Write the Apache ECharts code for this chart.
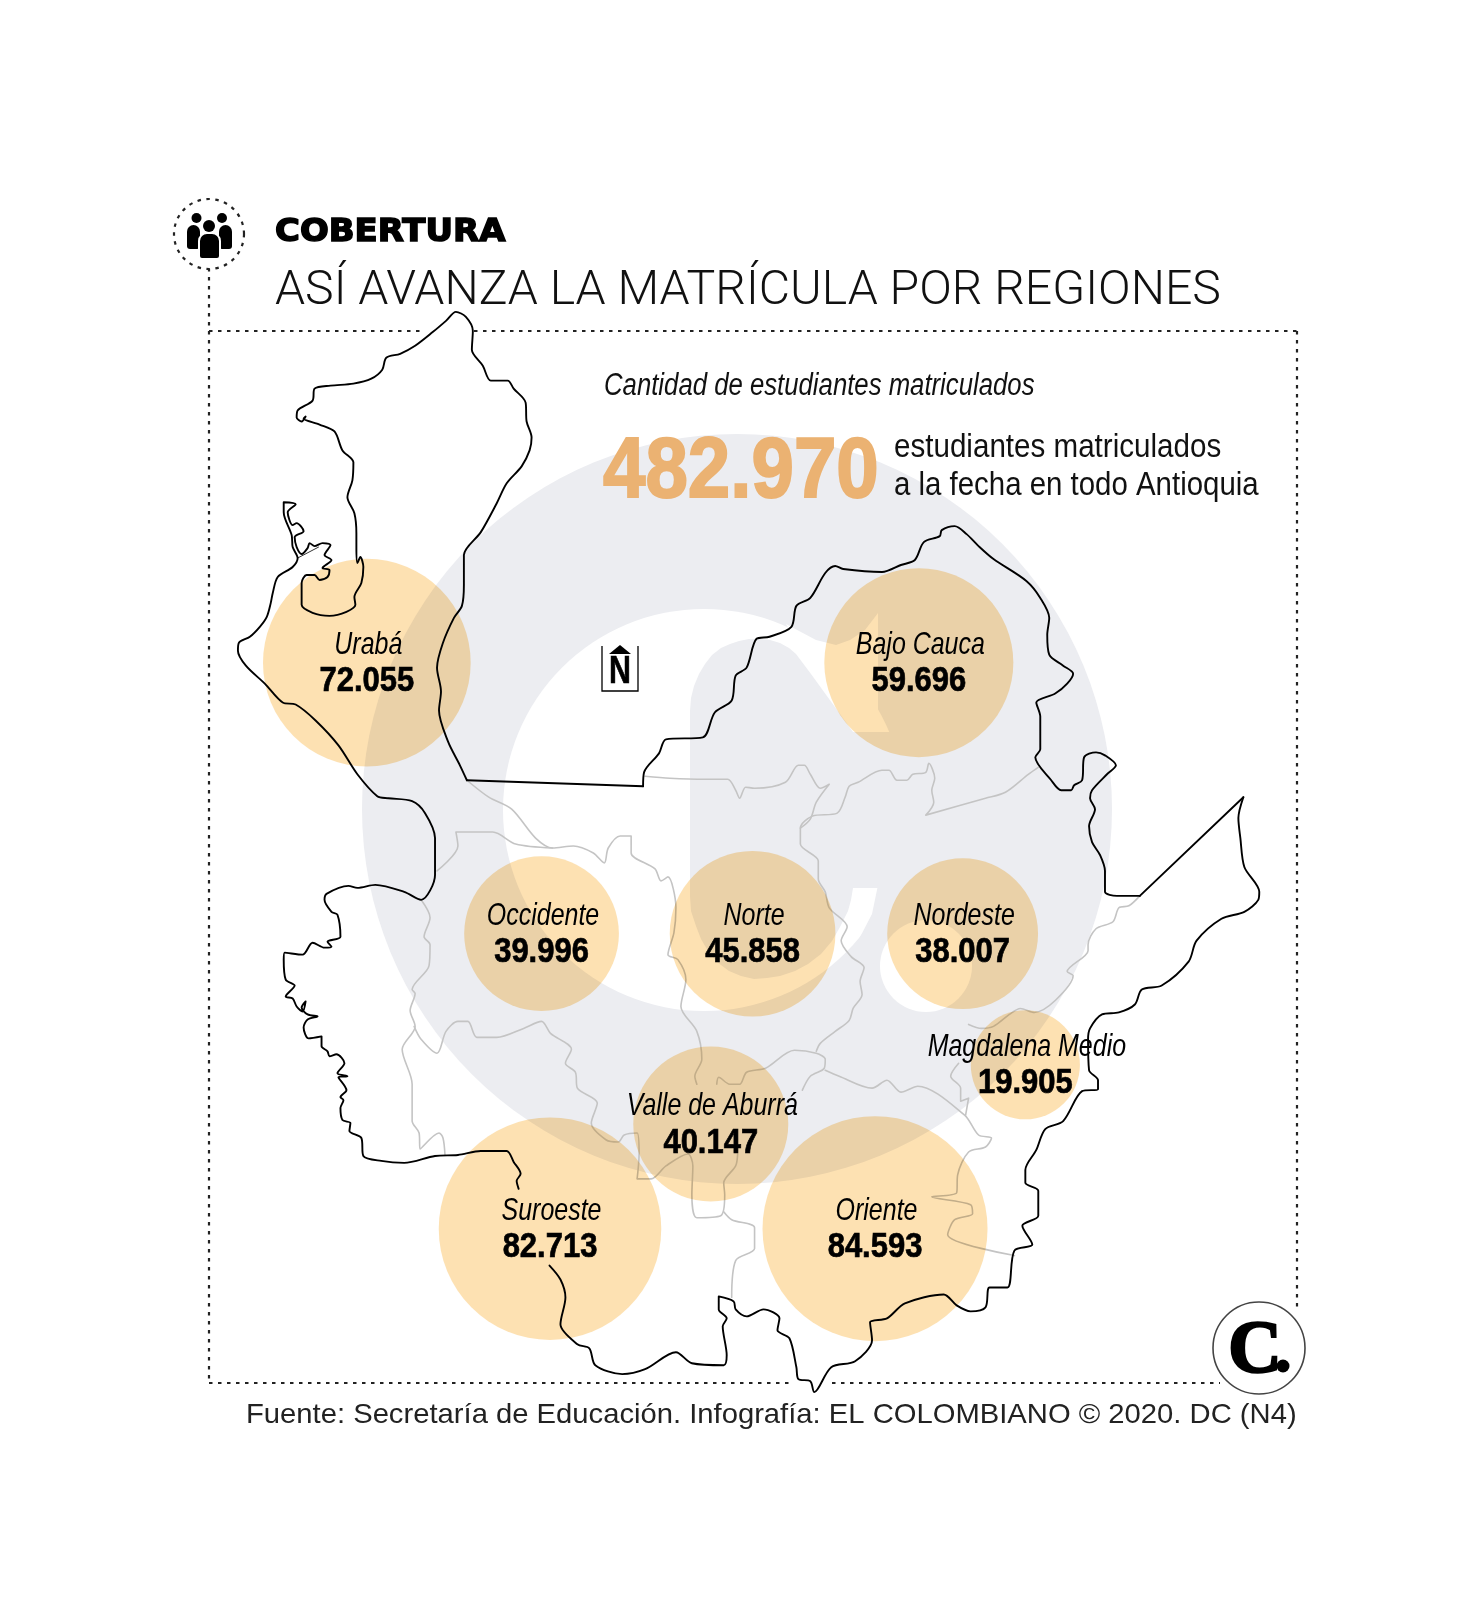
<!DOCTYPE html>
<html>
<head>
<meta charset="utf-8">
<title>Cobertura</title>
<script src="https://cdn.jsdelivr.net/npm/echarts@6/dist/echarts.min.js"></script>
<style>
html,body{margin:0;padding:0;background:#fff;}
#chart{width:1475px;height:1621px;}
</style>
</head>
<body>
<div id="chart"></div>
<script>
// regiones
var regionNames = ['Urabá','Bajo Cauca','Occidente','Norte','Nordeste','Magdalena Medio','Valle de Aburrá','Suroeste','Oriente'];
var regionValues = [72055,59696,39996,45858,38007,19905,40147,82713,84593];
var regionX = [368.5,923,544,756,967,1030,714,552.5,879];
var regionY = [665,665,937,937,937,1068.5,1128,1233,1233];
var totalStudents = 482970;

// contorno negro del mapa (coordenadas del mapa)
var outlineNorth = [[469,783],[462,768],[450,744],[441,713],[443,694],[439,670],[445,645],[456,620],[464,608],[466,587],[466,557],[483,534],[499,505],[509,485],[524,468],[532,452],[534,439],[529,423],[528,404],[516,390],[510,382],[493,382],[485,367],[474,351],[475,332],[468,318],[458,313],[448,322],[435,333],[417,347],[402,355],[388,359],[384,371],[373,380],[355,385],[332,387],[316,390],[314,402],[299,412],[298,419],[303,423],[307,418],[305,420],[321,426],[336,433],[344,452],[355,464],[354,482],[349,499],[356,515],[358,535],[358,549],[359,565],[362,559],[365,569],[363,585],[356,599],[357,607],[348,614],[331,618],[314,615],[303,607],[303,585],[308,577],[316,577],[321,582],[329,579],[331,572],[324,570],[333,562],[326,557],[332,547],[324,545],[316,548],[311,545],[309,550],[303,556],[298,549],[296,539],[305,533],[298,525],[294,527],[289,514],[297,506],[285,504],[285,514],[293,537],[294,549],[299,560],[294,569],[279,579],[274,595],[272,605],[268,619],[261,629],[251,639],[240,645],[239,653],[247,668],[266,686],[284,705],[297,707],[317,723],[340,748],[359,777],[379,799],[390,801],[414,804],[427,816],[437,841],[437,878],[423,903],[406,895],[377,888],[359,891],[350,889],[328,897],[326,903],[333,915],[339,918],[342,940],[329,945],[333,950],[326,951],[314,946],[304,958],[286,956],[285,963],[287,983],[296,989],[287,1000],[294,1002],[298,1010],[304,1015],[307,1005],[303,1011],[309,1018],[319,1020],[309,1023],[305,1031],[310,1042],[323,1040],[323,1050],[329,1055],[331,1060],[338,1058],[346,1067],[339,1077],[349,1080],[340,1081],[348,1094],[342,1101],[345,1104],[342,1112],[344,1124],[352,1127],[351,1135],[363,1142],[365,1160],[383,1165],[406,1167],[437,1160],[460,1159],[483,1155],[509,1155],[516,1166],[523,1178],[519,1185],[521,1193]];
var outlineSouth = [[552,1270],[563,1284],[568,1302],[563,1329],[580,1349],[592,1353],[598,1370],[625,1379],[648,1374],[679,1357],[695,1368],[727,1370],[730,1360],[726,1331],[730,1323],[722,1314],[722,1301],[737,1306],[739,1314],[750,1321],[767,1314],[783,1323],[781,1335],[793,1343],[800,1372],[802,1384],[814,1386],[818,1397],[835,1372],[859,1366],[876,1345],[874,1327],[891,1323],[909,1308],[948,1299],[961,1310],[975,1316],[990,1312],[994,1292],[1012,1292],[1019,1255],[1037,1249],[1027,1230],[1043,1220],[1043,1195],[1030,1187],[1030,1174],[1041,1154],[1050,1133],[1068,1125],[1087,1095],[1103,1093],[1103,1084],[1094,1074],[1093,1043],[1095,1032],[1107,1018],[1124,1016],[1140,1008],[1147,993],[1167,989],[1194,965],[1202,944],[1227,922],[1250,915],[1264,903],[1265,895],[1250,870],[1246,841],[1244,821],[1249,800]];
var outlineEast = [[1145,899],[1132,899],[1122,899],[1110,895],[1110,874],[1105,858],[1097,845],[1094,829],[1100,812],[1095,801],[1097,793],[1112,777],[1121,768],[1110,758],[1101,755],[1089,760],[1087,783],[1079,788],[1076,793],[1066,793],[1056,783],[1040,760],[1045,752],[1045,719],[1041,705],[1060,696],[1072,686],[1078,676],[1068,668],[1054,657],[1052,637],[1054,620],[1045,600],[1031,583],[998,561],[983,548],[971,536],[959,528],[946,532],[944,538],[928,544],[919,562],[905,567],[886,574],[847,571],[839,568],[829,575],[814,600],[800,608],[795,629],[773,639],[760,641],[750,670],[739,678],[735,703],[718,715],[706,740],[669,742],[662,756],[647,775],[646,789]];
var edgeStraightNorth = [[646,789],[469,783]];
var edgeStraightEast = [[1249,800],[1145,899]];
var outlineDelta = [[299,560],[320,549]];

// limites grises entre regiones
var borderOccidenteTop = [[469,783],[491,800],[514,812],[538,841],[555,851],[576,849],[596,856],[607,866],[611,851],[623,839],[634,839],[634,856],[658,872],[664,884],[671,880],[679,911],[677,936],[671,958],[681,963],[689,983],[684,1010],[700,1035],[705,1063],[698,1080],[700,1088]];
var borderOccidenteInner = [[555,851],[518,847],[495,835],[458,835],[460,849],[439,874]];
var borderWest = [[423,903],[432,921],[426,940],[432,948],[431,969],[414,993],[417,997],[412,1014],[417,1030],[404,1053],[414,1088],[414,1125],[421,1137],[422,1153],[441,1137],[445,1142],[447,1159]];
var borderSuroeste = [[416,1030],[423,1043],[439,1057],[448,1035],[460,1025],[470,1025],[479,1041],[499,1041],[526,1032],[544,1025],[553,1037],[574,1053],[568,1067],[578,1076],[580,1092],[600,1107],[594,1127],[609,1144],[621,1146],[627,1139],[640,1137],[642,1158],[640,1183],[654,1183],[669,1170],[691,1158],[696,1170],[695,1199],[700,1222],[724,1220],[728,1199],[727,1187],[739,1170],[741,1158]];
var borderSouth = [[727,1216],[735,1224],[758,1232],[758,1253],[739,1265],[735,1302]];
var borderValle = [[720,1088],[722,1081],[733,1088],[743,1088],[750,1076],[769,1072],[798,1054],[820,1057],[829,1063],[828,1072],[814,1080],[806,1094]];
var borderNorteEast = [[820,1055],[824,1047],[839,1035],[853,1024],[857,1012],[866,998],[864,985],[868,971],[855,960],[845,944],[851,930],[833,911],[829,895],[822,882],[822,864],[804,847],[804,831],[816,819],[841,816],[849,800],[853,789],[862,785],[886,773],[893,773],[901,783],[911,783],[917,777],[930,775],[933,766],[939,781],[936,793],[938,805],[930,818],[990,801],[1010,795],[1033,777],[1043,770]];
var borderNorteTop = [[648,779],[673,781],[708,782],[731,782],[739,793],[743,801],[749,790],[758,791],[789,785],[802,768],[808,768],[814,777],[824,791],[833,787],[820,805],[814,822],[804,831]];
var borderNordeste = [[1145,899],[1134,909],[1124,911],[1118,925],[1101,932],[1093,948],[1093,954],[1072,975],[1078,979],[1060,1004],[1039,1016],[1025,1012],[1014,1018],[998,1030],[986,1032],[973,1028]];
var borderMagdalena = [[963,1067],[955,1080],[965,1092],[965,1105],[973,1102],[970,1119]];
var borderOriente = [[829,1074],[843,1080],[876,1092],[891,1084],[905,1096],[922,1090],[969,1119],[983,1139],[996,1142],[990,1151],[973,1156],[962,1179],[961,1197],[936,1201],[975,1209],[977,1218],[959,1224],[952,1239],[1019,1260]];

var greyBorders = [borderOccidenteTop,borderOccidenteInner,borderWest,borderSuroeste,borderSouth,borderValle,borderNorteEast,borderNorteTop,borderNordeste,borderMagdalena,borderOriente];
var blackOutlines = [outlineNorth,outlineSouth,outlineEast];
var straightEdges = [edgeStraightNorth,edgeStraightEast];

var bubbleScale = 0.7736; // area proporcional al valor
var SANS = '"Liberation Sans"';
var WATERMARK = '#ecedf1';

function fmt(v) {
	return String(v).replace(/\B(?=(\d{3})+$)/g, '.');
}

function lineSeries(points, color, width, z, smooth) {
	return {
		type: 'line',
		data: points,
		symbol: 'none',
		smooth: smooth,
		silent: true,
		clip: false,
		z: z,
		lineStyle: {color: color, width: width, cap: 'round', join: 'round'}
	};
}

var bubbleData = regionNames.map(function(n, i) {
	return {name: n, value: [regionX[i], regionY[i], regionValues[i]]};
});

var series = [];
greyBorders.forEach(function(b) { series.push(lineSeries(b, '#c4c4c4', 1.6, 2, 0.3)); });
blackOutlines.forEach(function(b) { series.push(lineSeries(b, '#000', 1.9, 3, 0.3)); });
straightEdges.forEach(function(b) { series.push(lineSeries(b, '#000', 1.9, 3, false)); });
series.push(lineSeries(outlineDelta, '#000', 0.8, 3, false));

series.push({
	type: 'scatter',
	z: 4,
	blendMode: 'multiply',
	silent: true,
	symbolSize: function(val) { return Math.sqrt(val[2]) * bubbleScale; },
	itemStyle: {color: 'rgb(253,225,178)', opacity: 1},
	data: bubbleData
});

// etiquetas: tipografia condensada con scaleX
series.push({
	type: 'custom',
	z: 5,
	silent: true,
	clip: false,
	coordinateSystem: 'cartesian2d',
	data: bubbleData,
	renderItem: function(params, api) {
		var c = api.coord([api.value(0), api.value(1)]);
		return {
			type: 'group',
			children: [
				{type: 'text', x: c[0] + 1.5, y: c[1] - 18, scaleX: 0.78, style: {text: regionNames[params.dataIndex], font: 'italic 32px ' + SANS, fill: '#000', textAlign: 'center', textVerticalAlign: 'middle'}},
				{type: 'text', x: c[0], y: c[1] + 19, scaleX: 0.885, style: {text: fmt(api.value(2)), font: 'bold 35px ' + SANS, fill: '#000', stroke: '#000', lineWidth: 0.7, textAlign: 'center', textVerticalAlign: 'middle'}}
			]
		};
	}
});

function dotted(points) {
	return {type: 'polyline', z: 5, shape: {points: points}, style: {stroke: '#222', lineWidth: 2.2, lineDash: [3.5, 5.5], fill: null}};
}
function txt(x, y, text, font, fill, extra) {
	var el = {type: 'text', z: 6, x: x, y: y, style: {text: text, font: font, fill: fill, textVerticalAlign: 'middle'}};
	for (var k in extra) { if (k === 'style') { for (var s in extra.style) el.style[s] = extra.style[s]; } else el[k] = extra[k]; }
	return el;
}
function person(cx, headY, r, x, y, w, h, stroke) {
	return [
		{type: 'circle', z: 7, shape: {cx: cx, cy: headY, r: r}, style: {fill: '#000'}},
		{type: 'rect', z: 7, shape: {x: x, y: y, width: w, height: h, r: [8, 8, 3, 3]}, style: {fill: '#000', stroke: stroke, lineWidth: 2}}
	];
}

var graphicEls = [
	// marca de agua
	{type: 'circle', z: -1, z2: 1, shape: {cx: 737, cy: 809, r: 375}, style: {fill: WATERMARK}},
	{type: 'circle', z: -1, z2: 2, shape: {cx: 704, cy: 810, r: 201}, style: {fill: '#fff'}},
	{type: 'polygon', z: -1, z2: 3, shape: {points: [[786,624],[801,632],[816,640],[836,645],[850,640],[865,630],[878,613],[878,732],[848,732]]}, style: {fill: '#fff'}},
	{type: 'polygon', z: -1, z2: 4, shape: {points: [[690,896],[690,711],[691,698],[694,686],[699,674],[705,664],[712,655],[721,648],[730,644],[739,641],[749,639],[760,639],[770,640],[780,643],[789,648],[796,654],[811,674],[853,732],[920,732],[920,888],[853,888],[851,900],[848,911],[840,927],[832,941],[821,954],[808,964],[795,971],[780,976],[767,978],[754,979],[741,976],[729,971],[717,962],[708,951],[701,939],[696,926],[691,911]]}, style: {fill: WATERMARK}},
	{type: 'polygon', z: -1, z2: 5, shape: {points: [[878,885],[915,885],[915,960],[835,967],[858,941],[872,914]]}, style: {fill: WATERMARK}},
	{type: 'circle', z: -1, z2: 6, shape: {cx: 926, cy: 966, r: 46}, style: {fill: '#fff'}},

	// marco punteado
	dotted([[209,268],[209,1383]]),
	dotted([[209,331],[424,331]]),
	dotted([[474,331],[1297,331]]),
	dotted([[1297,331],[1297,1310]]),
	dotted([[209,1383],[792,1383]]),
	dotted([[832,1383],[1220,1383]]),

	// icono personas
	{type: 'circle', z: 5, shape: {cx: 209, cy: 234, r: 35}, style: {fill: '#fff', stroke: '#222', lineWidth: 2.2, lineDash: [3.5, 5.5]}},

	// encabezado
	txt(275, 233, 'COBERTURA', 'bold 32px "DejaVu Sans"', '#000', {scaleX: 1.06, style: {stroke: '#000', lineWidth: 1.5}}),

	// textos
	txt(604, 386, 'Cantidad de estudiantes matriculados', 'italic 31px ' + SANS, '#111', {scaleX: 0.83}),
	txt(603, 473, fmt(totalStudents), 'bold 86px ' + SANS, '#ebb272', {scaleX: 0.887, style: {stroke: '#ebb272', lineWidth: 2}}),
	txt(894, 448, 'estudiantes matriculados', '34px ' + SANS, '#111', {scaleX: 0.87}),
	txt(894, 486, 'a la fecha en todo Antioquia', '34px ' + SANS, '#111', {scaleX: 0.865}),
	txt(246, 1415, 'Fuente: Secretaría de Educación. Infografía: EL COLOMBIANO © 2020. DC (N4)', '28px ' + SANS, '#222', {scaleX: 1.043}),

	// norte
	{type: 'polyline', z: 6, shape: {points: [[602,646],[602,691],[638,691],[638,646]]}, style: {stroke: '#000', lineWidth: 1.3, fill: null}},
	{type: 'polygon', z: 6, shape: {points: [[609,654],[620,645],[631,654]]}, style: {fill: '#000'}},
	txt(620, 673, 'N', 'bold 38px ' + SANS, '#000', {scaleX: 0.8, style: {textAlign: 'center', stroke: '#000', lineWidth: 0.6}}),

	// logo
	{type: 'circle', z: 8, shape: {cx: 1259, cy: 1348, r: 46}, style: {fill: '#fff', stroke: '#444', lineWidth: 1.6}},
	txt(1255, 1353, 'C', 'bold 74px "Liberation Serif"', '#000', {z: 9, style: {textAlign: 'center', stroke: '#000', lineWidth: 2.5}}),
	{type: 'circle', z: 9, shape: {cx: 1283, cy: 1366, r: 6.5}, style: {fill: '#000'}}
];
graphicEls = graphicEls.concat(person(196.5, 218, 5, 187, 225, 13, 24, null));
graphicEls = graphicEls.concat(person(222, 218, 5, 219, 225, 13, 24, null));
graphicEls = graphicEls.concat(person(209, 226, 6, 199, 233, 21, 26, '#fff'));

var myChart = echarts.init(document.getElementById('chart'), null, {renderer: 'canvas'});
myChart.setOption({
	backgroundColor: '#fff',
	animation: false,
	title: {
		text: 'ASÍ AVANZA LA MATRÍCULA POR REGIONES',
		left: 275,
		top: 268,
		padding: 0,
		textStyle: {fontFamily: 'Roboto', fontWeight: 300, fontSize: 48.2, color: '#111'}
	},
	grid: {left: 0, right: 0, top: 0, bottom: 0},
	xAxis: {type: 'value', min: 0, max: 1481.7, show: false},
	yAxis: {type: 'value', min: 0, max: 1626.7, inverse: true, show: false},
	graphic: graphicEls,
	series: series
});
</script>
</body>
</html>
